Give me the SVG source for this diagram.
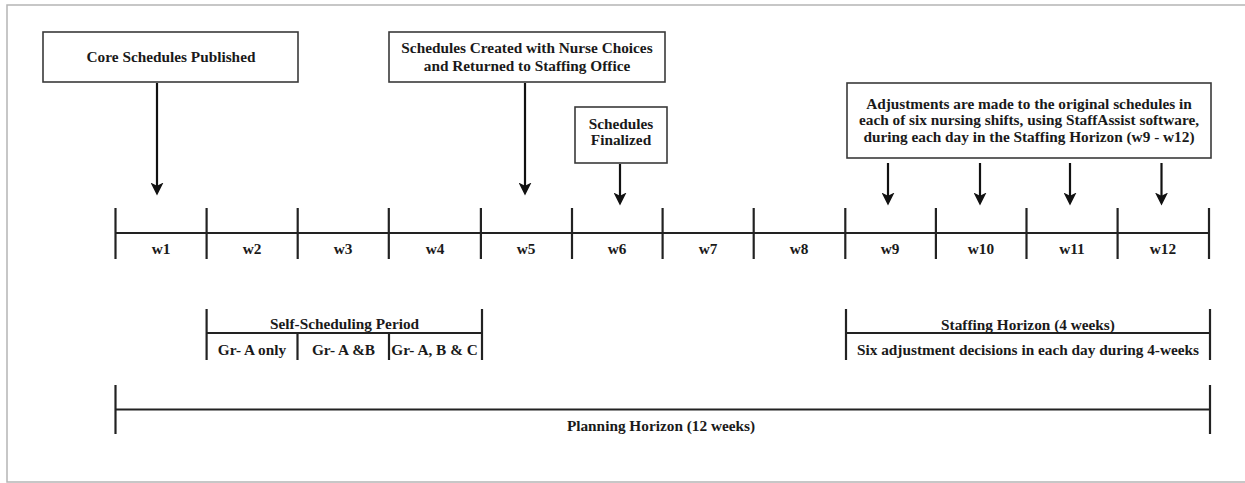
<svg xmlns="http://www.w3.org/2000/svg" width="1245" height="483" viewBox="0 0 1245 483">
  <style>
    .bg { fill: #ffffff; }
    .frame { fill: none; stroke: #b5b5b5; stroke-width: 1.5; }
    .box { fill: #ffffff; stroke: #3a3a3a; stroke-width: 1.6; }
    .t { font-family: "Liberation Serif", "Times New Roman", serif; font-weight: bold; font-size: 15.3px; fill: #1a1a1a; text-anchor: middle; }
    .ln { stroke: #222222; stroke-width: 2.2; fill: none; }
    .arr { stroke: #111111; stroke-width: 2.2; fill: none; marker-end: url(#ah); }
  </style>
  <defs>
    <marker id="ah" markerUnits="userSpaceOnUse" markerWidth="13" markerHeight="13" viewBox="0 0 12 12" refX="6" refY="6" orient="auto">
      <path d="M0,0 L12,6 L0,12 L3,6 z" fill="#111111"/>
    </marker>
  </defs>
  <rect class="bg" x="0" y="0" width="1245" height="483"/>
  <rect class="frame" x="7" y="5" width="1260" height="477"/>

  <g id="core-schedules">
    <rect class="box" x="43" y="32" width="255" height="50"/>
    <text class="t" x="171" y="62">Core Schedules Published</text>
  </g>

  <g id="schedules-created">
    <rect class="box" x="389" y="32" width="276" height="50"/>
    <text class="t" x="527" y="52.5">Schedules Created with Nurse Choices</text>
    <text class="t" x="527" y="70.5">and Returned to Staffing Office</text>
  </g>

  <g id="schedules-finalized">
    <rect class="box" x="575" y="107" width="92" height="56"/>
    <text class="t" x="621" y="128.5">Schedules</text>
    <text class="t" x="621" y="145">Finalized</text>
  </g>

  <g id="adjustments">
    <rect class="box" x="847" y="83" width="364" height="75"/>
    <text class="t" x="1029" y="108.5">Adjustments are made to the original schedules in</text>
    <text class="t" x="1029" y="125">each of six nursing shifts, using StaffAssist software,</text>
    <text class="t" x="1029" y="141.7">during each day in the Staffing Horizon (w9 - w12)</text>
  </g>

  <g id="timeline">
    <line class="ln" x1="115.5" y1="233" x2="1209" y2="233"/>
    <line class="ln" x1="115.5" y1="208" x2="115.5" y2="259"/>
    <line class="ln" x1="206.6" y1="208" x2="206.6" y2="259"/>
    <line class="ln" x1="297.7" y1="208" x2="297.7" y2="259"/>
    <line class="ln" x1="388.8" y1="208" x2="388.8" y2="259"/>
    <line class="ln" x1="480.9" y1="208" x2="480.9" y2="259"/>
    <line class="ln" x1="572" y1="208" x2="572" y2="259"/>
    <line class="ln" x1="662.6" y1="208" x2="662.6" y2="259"/>
    <line class="ln" x1="753.7" y1="208" x2="753.7" y2="259"/>
    <line class="ln" x1="845.3" y1="208" x2="845.3" y2="259"/>
    <line class="ln" x1="935.9" y1="208" x2="935.9" y2="259"/>
    <line class="ln" x1="1026.5" y1="208" x2="1026.5" y2="259"/>
    <line class="ln" x1="1117.6" y1="208" x2="1117.6" y2="259"/>
    <line class="ln" x1="1209" y1="208" x2="1209" y2="259"/>
    <text class="t" x="161" y="254">w1</text>
    <text class="t" x="252" y="254">w2</text>
    <text class="t" x="343" y="254">w3</text>
    <text class="t" x="435" y="254">w4</text>
    <text class="t" x="526" y="254">w5</text>
    <text class="t" x="617" y="254">w6</text>
    <text class="t" x="708" y="254">w7</text>
    <text class="t" x="799" y="254">w8</text>
    <text class="t" x="890" y="254">w9</text>
    <text class="t" x="981" y="254">w10</text>
    <text class="t" x="1072" y="254">w11</text>
    <text class="t" x="1163" y="254">w12</text>
  </g>

  <g id="self-scheduling">
    <line class="ln" x1="206.6" y1="333" x2="482" y2="333"/>
    <line class="ln" x1="206.6" y1="309" x2="206.6" y2="360"/>
    <line class="ln" x1="482" y1="309" x2="482" y2="360"/>
    <line class="ln" x1="297.5" y1="333" x2="297.5" y2="360"/>
    <line class="ln" x1="389" y1="333" x2="389" y2="360"/>
    <text class="t" x="344.5" y="328.5">Self-Scheduling Period</text>
    <text class="t" x="252" y="355">Gr- A only</text>
    <text class="t" x="343.5" y="355">Gr- A &amp;B</text>
    <text class="t" x="434.5" y="355">Gr- A, B &amp; C</text>
  </g>

  <g id="staffing-horizon">
    <line class="ln" x1="846" y1="333" x2="1210" y2="333"/>
    <line class="ln" x1="846" y1="309" x2="846" y2="360"/>
    <line class="ln" x1="1210" y1="309" x2="1210" y2="360"/>
    <text class="t" x="1028" y="329.5">Staffing Horizon (4 weeks)</text>
    <text class="t" x="1028" y="355">Six adjustment decisions in each day during 4-weeks</text>
  </g>

  <g id="planning-horizon">
    <line class="ln" x1="115.5" y1="409.5" x2="1210" y2="409.5"/>
    <line class="ln" x1="115.5" y1="385" x2="115.5" y2="434"/>
    <line class="ln" x1="1210" y1="385" x2="1210" y2="434"/>
    <text class="t" x="661" y="430.5">Planning Horizon (12 weeks)</text>
  </g>

  <g id="connectors">
    <line class="arr" x1="157" y1="83" x2="157" y2="189"/>
    <line class="arr" x1="525" y1="83" x2="525" y2="189"/>
    <line class="arr" x1="620" y1="164" x2="620" y2="199"/>
    <line class="arr" x1="888" y1="163" x2="888" y2="199"/>
    <line class="arr" x1="980" y1="163" x2="980" y2="199"/>
    <line class="arr" x1="1070" y1="163" x2="1070" y2="199"/>
    <line class="arr" x1="1161.5" y1="163" x2="1161.5" y2="199"/>
  </g>
</svg>
